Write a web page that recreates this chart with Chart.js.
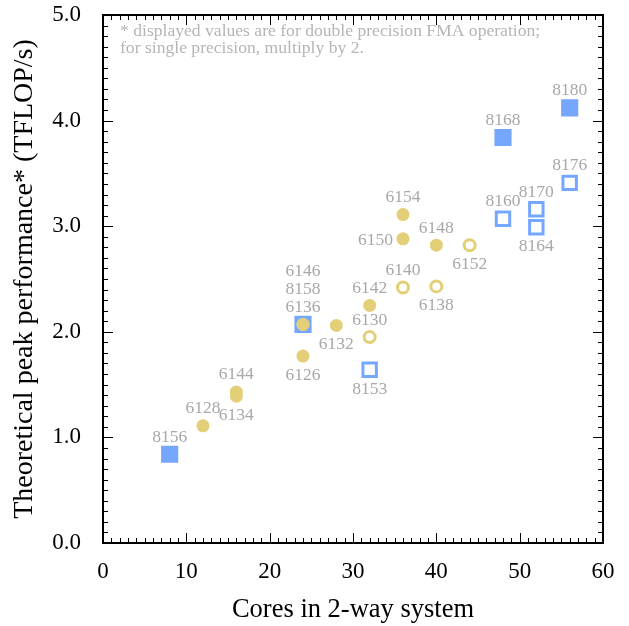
<!DOCTYPE html>
<html><head><meta charset="utf-8">
<script src="https://cdn.jsdelivr.net/npm/chart.js@4"></script>
<style>html,body{margin:0;padding:0;background:#fff}</style>
</head><body>
<canvas id="c" width="629" height="626"></canvas>
<script>
// ---- data ----
const blueFilledNames = ['8156','8158','8168','8180'];
const blueFilledCores = [8,24,48,56];
const blueFilledPerf  = [0.84,2.07,3.84,4.12];

const blueOpenNames = ['8153','8160','8164','8170','8176'];
const blueOpenCores = [32,48,52,52,56];
const blueOpenPerf  = [1.64,3.07,2.99,3.16,3.41];

const yellowFilledNames = ['6128','6144','6134','6126','6136','6146','6132','6142','6150','6154','6148'];
const yellowFilledCores = [12,16,16,24,24,24,28,32,36,36,40];
const yellowFilledPerf  = [1.11,1.43,1.39,1.77,2.07,2.07,2.06,2.25,2.88,3.11,2.82];

const yellowOpenNames = ['6130','6140','6138','6152'];
const yellowOpenCores = [32,36,40,44];
const yellowOpenPerf  = [1.95,2.42,2.43,2.82];

const xTickValues = [0,10,20,30,40,50,60];
const yTickValues = [0,1,2,3,4,5];

const xTitle = 'Cores in 2-way system';
const yTitle = 'Theoretical peak performance* (TFLOP/s)';
const noteLines = ['* displayed values are for double precision FMA operation;',
                   'for single precision, multiply by 2.'];

// label placement (default above)
const labelsBelow = ['6134','6126','6132','8153','6138','6152','8164'];
const labelsLeft  = ['6150'];
const labelStack  = {'6136':0,'8158':1,'6146':2};

// ---- styling ----
const BLUE = '#76a7ff';
const YELLOW = '#e2cf78';
const LABEL_COLOR = '#a8a8a8';
const SERIF = '"Liberation Serif", "Times New Roman", serif';

function pts(xs, ys, names){ return xs.map((x,i)=>({x:x, y:ys[i], name:names[i]})); }

const labelPlugin = {
  id: 'labelsAndFrame',
  afterDatasetsDraw(chart){
    const ctx = chart.ctx;
    ctx.save();
    ctx.font = '17.5px ' + SERIF;
    ctx.fillStyle = LABEL_COLOR;
    chart.data.datasets.forEach((ds, di) => {
      const meta = chart.getDatasetMeta(di);
      meta.data.forEach((el, i) => {
        const name = ds.data[i].name;
        const px = el.x, py = el.y;
        ctx.textBaseline = 'alphabetic';
        if (labelsLeft.includes(name)) {
          ctx.textAlign = 'right';
          ctx.fillText(name, px - 10, py + 6);
        } else if (labelsBelow.includes(name)) {
          ctx.textAlign = 'center';
          ctx.fillText(name, px, py + 24);
        } else {
          const lvl = labelStack[name] || 0;
          ctx.textAlign = 'center';
          ctx.fillText(name, px, py - 12.5 - lvl * 18);
        }
      });
    });
    // note
    ctx.font = '17.6px ' + SERIF;
    ctx.fillStyle = '#b5b5b5';
    ctx.textAlign = 'left';
    noteLines.forEach((t, k) => ctx.fillText(t, 120, 36 + k * 17));
    ctx.restore();
  },
  afterDraw(chart){
    const ctx = chart.ctx;
    const a = chart.chartArea;
    const xs = chart.scales.x, ys = chart.scales.y;
    ctx.save();
    ctx.strokeStyle = '#000';
    ctx.lineWidth = 1;
    ctx.beginPath();
    for (let v = 0; v <= 60; v++) {
      const p = Math.round(xs.getPixelForValue(v)) + 0.5;
      const len = (v % 10 === 0) ? 10 : 5;
      ctx.moveTo(p, a.bottom); ctx.lineTo(p, a.bottom - len);
      ctx.moveTo(p, a.top); ctx.lineTo(p, a.top + len);
    }
    for (let k = 0; k <= 50; k++) {
      const p = Math.round(ys.getPixelForValue(k / 10)) + 0.5;
      const len = (k % 10 === 0) ? 10 : 5;
      ctx.moveTo(a.left, p); ctx.lineTo(a.left + len, p);
      ctx.moveTo(a.right, p); ctx.lineTo(a.right - len, p);
    }
    ctx.stroke();
    ctx.lineWidth = 2;
    ctx.strokeRect(a.left, a.top, a.right - a.left, a.bottom - a.top);
    ctx.restore();
  }
};

new Chart(document.getElementById('c'), {
  type: 'scatter',
  data: {
    datasets: [
      { label:'yellow filled', data: pts(yellowFilledCores, yellowFilledPerf, yellowFilledNames),
        pointStyle:'circle', pointRadius:6.5, backgroundColor:YELLOW, borderColor:YELLOW, borderWidth:0 },
      { label:'yellow open', data: pts(yellowOpenCores, yellowOpenPerf, yellowOpenNames),
        pointStyle:'circle', pointRadius:5.5, backgroundColor:'#fff', borderColor:YELLOW, borderWidth:3 },
      { label:'blue filled', data: pts(blueFilledCores, blueFilledPerf, blueFilledNames),
        pointStyle:'rect', pointRadius:10, backgroundColor:BLUE, borderColor:BLUE, borderWidth:3 },
      { label:'blue open', data: pts(blueOpenCores, blueOpenPerf, blueOpenNames),
        pointStyle:'rect', pointRadius:9.5, backgroundColor:'#fff', borderColor:BLUE, borderWidth:3 }
    ]
  },
  options: {
    responsive: false,
    animation: false,
    events: [],
    layout: { padding: { top: 15, right: 26, left: 0, bottom: 0 } },
    plugins: { legend: { display: false }, tooltip: { enabled: false } },
    scales: {
      x: {
        type: 'linear', min: 0, max: 60,
        afterBuildTicks: s => { s.ticks = xTickValues.map(v => ({ value: v })); },
        afterFit: s => { s.height = 83; s.paddingLeft = 0; s.paddingRight = 0; },
        grid: { display: false, drawTicks: false },
        border: { display: false },
        ticks: { color: '#000', font: { family: SERIF, size: 23 }, padding: 15,
                 maxRotation: 0, autoSkip: false, callback: v => String(v) },
        title: { display: true, text: xTitle, color: '#000',
                 font: { family: SERIF, size: 26.5 }, padding: { top: 0, bottom: 0 } }
      },
      y: {
        type: 'linear', min: 0, max: 5,
        afterBuildTicks: s => { s.ticks = yTickValues.map(v => ({ value: v })); },
        afterFit: s => { s.width = 103; s.paddingTop = 0; s.paddingBottom = 0; },
        grid: { display: false, drawTicks: false },
        border: { display: false },
        ticks: { color: '#000', font: { family: SERIF, size: 23 }, padding: 22,
                 autoSkip: false, callback: v => Number(v).toFixed(1) },
        title: { display: true, text: yTitle, color: '#000',
                 font: { family: SERIF, size: 28 }, padding: { top: 8, bottom: 0 } }
      }
    }
  },
  plugins: [labelPlugin]
});
</script>
</body></html>
